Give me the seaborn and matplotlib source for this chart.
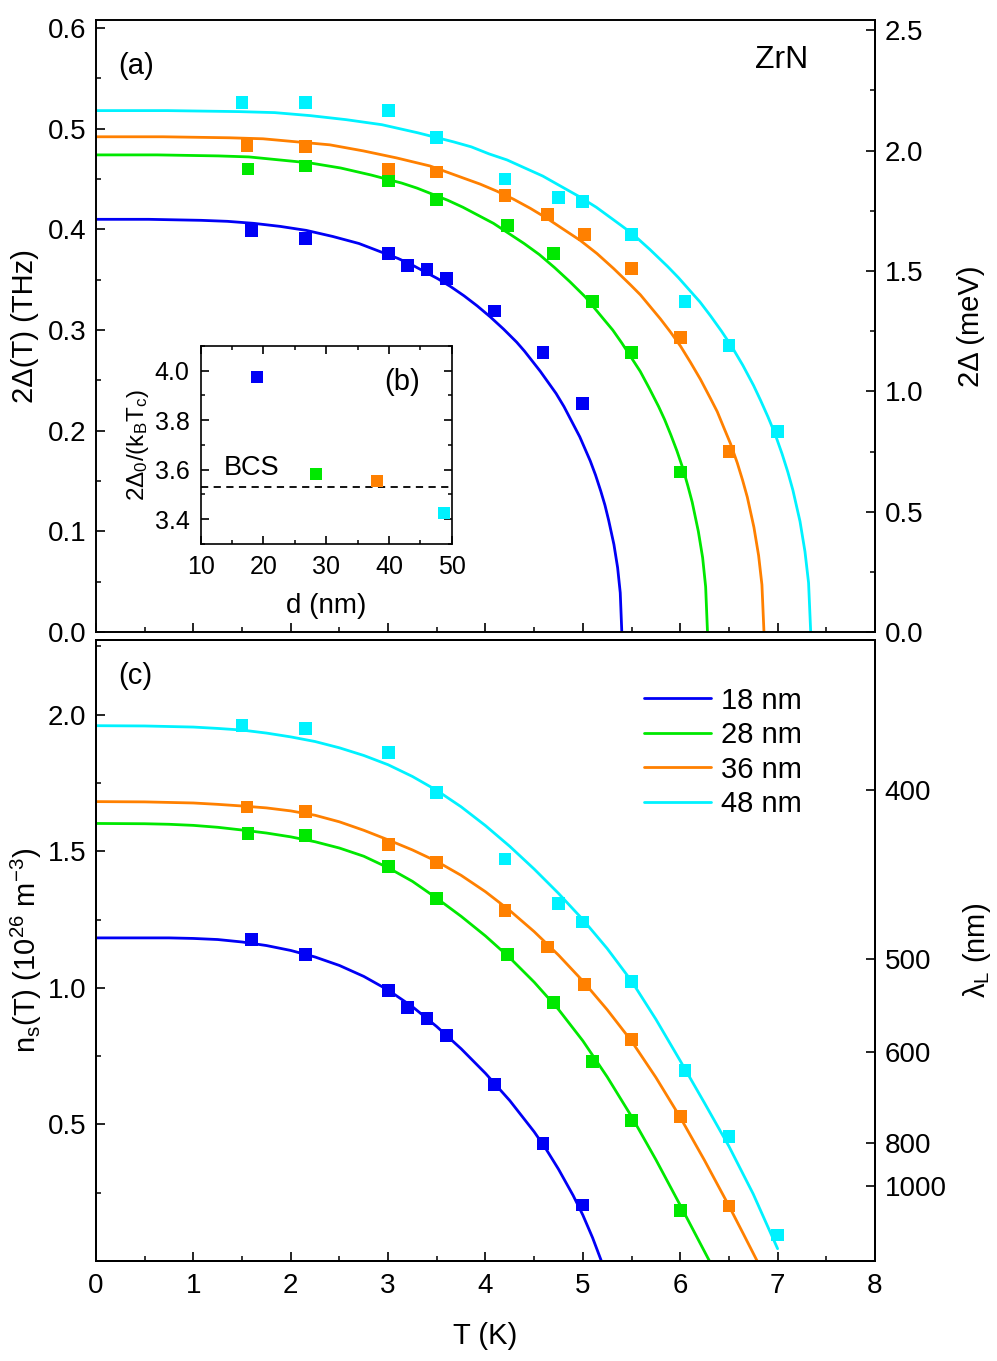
import numpy as np
import pandas as pd
import matplotlib
matplotlib.use('Agg')
import matplotlib.pyplot as plt
from matplotlib.ticker import MultipleLocator, FixedLocator, NullLocator
from matplotlib.lines import Line2D
import seaborn as sns

# ---------------- data ----------------
thickness = ['18 nm', '28 nm', '36 nm', '48 nm']
colors = ['#0000F5', '#00E800', '#FF8000', '#00F2FF']

# measured points (T in K)
T_18 = [1.60, 2.15, 3.00, 3.20, 3.40, 3.60, 4.09, 4.59, 5.00]
gap_18 = [0.399, 0.391, 0.376, 0.364, 0.360, 0.351, 0.319, 0.278, 0.227]
ns_18 = [1.177, 1.122, 0.990, 0.929, 0.887, 0.825, 0.647, 0.431, 0.205]

T_28 = [1.56, 2.15, 3.00, 3.50, 4.23, 4.70, 5.10, 5.50, 6.00]
gap_28 = [0.460, 0.463, 0.448, 0.430, 0.404, 0.376, 0.328, 0.278, 0.159]
ns_28 = [1.565, 1.558, 1.443, 1.326, 1.121, 0.945, 0.729, 0.514, 0.186]

T_36 = [1.55, 2.15, 3.00, 3.50, 4.20, 4.64, 5.02, 5.50, 6.00, 6.50]
gap_36 = [0.483, 0.482, 0.460, 0.457, 0.434, 0.415, 0.395, 0.361, 0.293, 0.179]
ns_36 = [1.662, 1.646, 1.524, 1.459, 1.284, 1.150, 1.013, 0.812, 0.529, 0.201]

T_48 = [1.50, 2.15, 3.00, 3.50, 4.20, 4.75, 5.00, 5.50, 6.05, 6.50, 7.00]
gap_48 = [0.526, 0.526, 0.518, 0.491, 0.450, 0.432, 0.428, 0.395, 0.328, 0.285, 0.199]
ns_48 = [1.961, 1.949, 1.862, 1.715, 1.472, 1.308, 1.241, 1.022, 0.698, 0.457, 0.095]

# fitted gap curves
fitT_gap_18 = [0, 0.54, 1.08, 1.35, 1.62, 1.89, 2.16, 2.43, 2.70, 2.835, 2.97, 3.105, 3.24, 3.375,
               3.51, 3.645, 3.78, 3.915, 4.05, 4.185, 4.32, 4.401, 4.482, 4.563, 4.644, 4.725,
               4.806, 4.887, 4.968, 5.022, 5.076, 5.13, 5.184, 5.227, 5.265, 5.319, 5.357, 5.384, 5.40]
fit_gap_18 = [0.410, 0.410, 0.409, 0.408, 0.406, 0.403, 0.399, 0.393, 0.386, 0.381, 0.376, 0.371,
              0.365, 0.358, 0.351, 0.343, 0.334, 0.324, 0.313, 0.301, 0.288, 0.279, 0.269, 0.259,
              0.248, 0.237, 0.224, 0.209, 0.194, 0.182, 0.170, 0.156, 0.140, 0.126, 0.111, 0.087,
              0.064, 0.039, 0.0]
fitT_gap_28 = [0, 0.628, 1.256, 1.57, 1.884, 2.198, 2.512, 2.826, 3.14, 3.297, 3.454, 3.611, 3.768,
               3.925, 4.082, 4.239, 4.396, 4.553, 4.71, 4.867, 5.024, 5.118, 5.212, 5.307, 5.401,
               5.495, 5.589, 5.683, 5.778, 5.840, 5.903, 5.966, 6.029, 6.079, 6.123, 6.186, 6.230,
               6.261, 6.28]
fit_gap_28 = [0.474, 0.474, 0.473, 0.472, 0.469, 0.466, 0.461, 0.454, 0.446, 0.441, 0.435, 0.429,
              0.422, 0.414, 0.406, 0.396, 0.386, 0.375, 0.362, 0.348, 0.333, 0.322, 0.311, 0.300,
              0.287, 0.273, 0.259, 0.242, 0.224, 0.211, 0.196, 0.180, 0.162, 0.145, 0.129, 0.100,
              0.074, 0.045, 0.0]
fitT_gap_36 = [0, 0.686, 1.372, 1.715, 2.058, 2.401, 2.744, 3.087, 3.43, 3.602, 3.773, 3.945, 4.116,
               4.288, 4.459, 4.631, 4.802, 4.974, 5.145, 5.317, 5.488, 5.591, 5.694, 5.797, 5.900,
               6.003, 6.105, 6.208, 6.311, 6.380, 6.448, 6.517, 6.586, 6.640, 6.689, 6.757, 6.805,
               6.839, 6.86]
fit_gap_36 = [0.492, 0.492, 0.491, 0.490, 0.487, 0.484, 0.478, 0.471, 0.463, 0.457, 0.451, 0.445,
              0.438, 0.430, 0.421, 0.411, 0.400, 0.389, 0.376, 0.361, 0.345, 0.335, 0.323, 0.311,
              0.298, 0.284, 0.268, 0.251, 0.232, 0.219, 0.203, 0.187, 0.168, 0.151, 0.134, 0.104,
              0.076, 0.047, 0.0]
fitT_gap_48 = [0, 0.734, 1.468, 1.835, 2.202, 2.569, 2.936, 3.303, 3.67, 3.854, 4.037, 4.221, 4.404,
               4.588, 4.771, 4.955, 5.138, 5.322, 5.505, 5.689, 5.872, 5.982, 6.092, 6.202, 6.312,
               6.423, 6.533, 6.643, 6.753, 6.826, 6.900, 6.973, 7.046, 7.105, 7.157, 7.230, 7.281,
               7.318, 7.34]
fit_gap_48 = [0.518, 0.518, 0.517, 0.516, 0.513, 0.509, 0.504, 0.496, 0.487, 0.482, 0.475, 0.469,
              0.461, 0.453, 0.443, 0.433, 0.422, 0.409, 0.396, 0.380, 0.363, 0.352, 0.340, 0.328,
              0.314, 0.299, 0.283, 0.265, 0.245, 0.230, 0.214, 0.197, 0.177, 0.159, 0.141, 0.110,
              0.080, 0.049, 0.0]

# fitted superfluid density curves
fitT_ns_18 = [0, 0.5, 0.75, 1.0, 1.25, 1.5, 1.75, 2.0, 2.25, 2.5, 2.75, 3.0, 3.25, 3.5, 3.75, 4.0,
              4.25, 4.5, 4.625, 4.75, 4.9, 5.0, 5.1, 5.19]
fit_ns_18 = [1.183, 1.183, 1.183, 1.181, 1.177, 1.168, 1.155, 1.137, 1.113, 1.082, 1.042, 0.992,
             0.931, 0.858, 0.777, 0.687, 0.587, 0.473, 0.408, 0.336, 0.240, 0.168, 0.085, 0.0]
fitT_ns_28 = [0, 0.5, 0.75, 1.0, 1.25, 1.5, 1.75, 2.0, 2.25, 2.5, 2.75, 3.0, 3.25, 3.5, 3.75, 4.0,
              4.25, 4.5, 4.75, 5.0, 5.25, 5.5, 5.75, 6.0, 6.15, 6.30]
fit_ns_28 = [1.602, 1.601, 1.599, 1.595, 1.588, 1.578, 1.567, 1.553, 1.535, 1.512, 1.482, 1.440,
             1.390, 1.328, 1.262, 1.190, 1.110, 1.021, 0.921, 0.806, 0.674, 0.529, 0.371, 0.204,
             0.102, 0.0]
fitT_ns_36 = [0, 0.5, 0.75, 1.0, 1.25, 1.5, 1.75, 2.0, 2.25, 2.5, 2.75, 3.0, 3.25, 3.5, 3.75, 4.0,
              4.25, 4.5, 4.75, 5.0, 5.25, 5.5, 5.75, 6.0, 6.25, 6.5, 6.65, 6.79]
fit_ns_36 = [1.682, 1.681, 1.679, 1.677, 1.672, 1.666, 1.659, 1.648, 1.632, 1.608, 1.577, 1.542,
             1.505, 1.463, 1.412, 1.352, 1.283, 1.206, 1.120, 1.025, 0.920, 0.805, 0.672, 0.526,
             0.368, 0.202, 0.098, 0.0]
fitT_ns_48 = [0, 0.5, 0.75, 1.0, 1.25, 1.5, 1.75, 2.0, 2.25, 2.5, 2.75, 3.0, 3.25, 3.5, 3.75, 4.0,
              4.25, 4.5, 4.75, 5.0, 5.25, 5.5, 5.75, 6.0, 6.25, 6.5, 6.75, 7.0]
fit_ns_48 = [1.960, 1.959, 1.957, 1.955, 1.950, 1.944, 1.933, 1.919, 1.902, 1.879, 1.851, 1.817,
             1.774, 1.723, 1.663, 1.594, 1.518, 1.435, 1.346, 1.250, 1.144, 1.025, 0.885, 0.733,
             0.578, 0.420, 0.245, 0.045]

# inset (b)
inset_d = [18.9, 28.4, 38.1, 48.7]
inset_ratio = [3.973, 3.583, 3.555, 3.424]
bcs_value = 3.53

# right-axis ticks
meV_ticks = [0.0, 0.5, 1.0, 1.5, 2.0, 2.5]
lam_ticks = [400, 500, 600, 800, 1000]
THZ_TO_MEV = 4.182
LAMBDA_K = 276000.0   # n_s (1e26 m^-3) = K / lambda(nm)^2

# ---------------- tables ----------------
def long_table(xs, ys):
    return pd.DataFrame({
        'T': sum(xs, []),
        'v': sum(ys, []),
        'd': sum([[lab] * len(x) for lab, x in zip(thickness, xs)], []),
    })

pts_gap = long_table([T_18, T_28, T_36, T_48], [gap_18, gap_28, gap_36, gap_48])
pts_ns = long_table([T_18, T_28, T_36, T_48], [ns_18, ns_28, ns_36, ns_48])
fit_gap = long_table([fitT_gap_18, fitT_gap_28, fitT_gap_36, fitT_gap_48],
                     [fit_gap_18, fit_gap_28, fit_gap_36, fit_gap_48])
fit_ns = long_table([fitT_ns_18, fitT_ns_28, fitT_ns_36, fitT_ns_48],
                    [fit_ns_18, fit_ns_28, fit_ns_36, fit_ns_48])
inset = pd.DataFrame({'d_nm': inset_d, 'r': inset_ratio, 'd': thickness})
pal = dict(zip(thickness, colors))

# ---------------- style ----------------
sns.set_theme(style='ticks')
plt.rcParams.update({
    'font.family': ['Liberation Sans', 'DejaVu Sans'],
    'mathtext.fontset': 'custom',
    'mathtext.rm': 'Liberation Sans',
    'mathtext.it': 'Liberation Sans:italic',
    'mathtext.bf': 'Liberation Sans:bold',
    'axes.linewidth': 1.4,
    'axes.edgecolor': 'black',
    'xtick.direction': 'in', 'ytick.direction': 'in',
    'xtick.color': 'black', 'ytick.color': 'black',
    'xtick.major.size': 6.5, 'ytick.major.size': 6.5,
    'xtick.minor.size': 3.5, 'ytick.minor.size': 3.5,
    'xtick.major.width': 1.2, 'ytick.major.width': 1.2,
    'xtick.minor.width': 1.1, 'ytick.minor.width': 1.1,
    'axes.labelcolor': 'black', 'text.color': 'black',
    'lines.solid_joinstyle': 'round',
})

TICK_FS = 20
LABEL_FS = 21
LW = 2.0
MS = 85

fig = plt.figure(figsize=(9.97, 13.61), dpi=100)
ax1 = fig.add_axes([0.0963, 0.5356, 0.7813, 0.4497])
ax2 = fig.add_axes([0.0963, 0.0735, 0.7813, 0.4563])

# ----- panel (a) -----
sns.lineplot(data=fit_gap, x='T', y='v', hue='d', palette=pal, sort=False,
             estimator=None, linewidth=LW, legend=False, ax=ax1, zorder=2)
sns.scatterplot(data=pts_gap, x='T', y='v', hue='d', palette=pal, marker='s',
                s=MS, linewidth=0, legend=False, ax=ax1, zorder=3)
ax1.set_xlim(0, 8)
ax1.set_ylim(0, 0.608)
ax1.xaxis.set_major_locator(MultipleLocator(1))
ax1.xaxis.set_minor_locator(MultipleLocator(0.5))
ax1.yaxis.set_major_locator(MultipleLocator(0.1))
ax1.yaxis.set_minor_locator(MultipleLocator(0.05))
ax1.tick_params(axis='x', which='both', labelbottom=False)
ax1.tick_params(axis='y', which='both', labelsize=TICK_FS, pad=7)
ax1.set_xlabel('')
ax1.set_ylabel('2Δ(T) (THz)', fontsize=LABEL_FS)
ax1.yaxis.set_label_coords(-0.073, 0.5)
ax1.text(0.029, 0.925, '(a)', transform=ax1.transAxes, fontsize=LABEL_FS,
         ha='left', va='center')
ax1.text(0.914, 0.935, 'ZrN', transform=ax1.transAxes, fontsize=23,
         ha='right', va='center')

ax1r = ax1.secondary_yaxis('right', functions=(lambda x: x * THZ_TO_MEV,
                                               lambda x: x / THZ_TO_MEV))
ax1r.yaxis.set_major_locator(FixedLocator(meV_ticks))
ax1r.yaxis.set_minor_locator(MultipleLocator(0.25))
ax1r.tick_params(axis='y', which='both', direction='in', labelsize=TICK_FS, pad=7)
ax1r.set_ylabel('2Δ (meV)', fontsize=LABEL_FS, labelpad=24)

# ----- panel (c) -----
sns.lineplot(data=fit_ns, x='T', y='v', hue='d', palette=pal, sort=False,
             estimator=None, linewidth=LW, legend=False, ax=ax2, zorder=2)
sns.scatterplot(data=pts_ns, x='T', y='v', hue='d', palette=pal, marker='s',
                s=MS, linewidth=0, legend=False, ax=ax2, zorder=3)
ax2.set_xlim(0, 8)
ax2.set_ylim(0, 2.274)
ax2.xaxis.set_major_locator(MultipleLocator(1))
ax2.xaxis.set_minor_locator(MultipleLocator(0.5))
ax2.yaxis.set_major_locator(FixedLocator([0.5, 1.0, 1.5, 2.0]))
ax2.yaxis.set_minor_locator(FixedLocator([0.25, 0.75, 1.25, 1.75, 2.25]))
ax2.tick_params(axis='y', which='both', labelsize=TICK_FS, pad=7)
ax2.tick_params(axis='x', which='both', labelsize=TICK_FS, pad=9)
ax2.set_xlabel('T (K)', fontsize=LABEL_FS, labelpad=16)
ax2.set_ylabel(r'n$_\mathregular{s}$(T) (10$^\mathregular{26}$ m$^\mathregular{-3}$)',
               fontsize=LABEL_FS)
ax2.yaxis.set_label_coords(-0.067, 0.5)
ax2.text(0.029, 0.942, '(c)', transform=ax2.transAxes, fontsize=LABEL_FS,
         ha='left', va='center')

ax2r = ax2.twinx()
ax2r.set_ylim(ax2.get_ylim())
ax2r.yaxis.set_major_locator(FixedLocator([LAMBDA_K / l ** 2 for l in lam_ticks]))
ax2r.yaxis.set_minor_locator(NullLocator())
ax2r.set_yticklabels([str(l) for l in lam_ticks])
ax2r.tick_params(axis='y', which='both', direction='in', labelsize=TICK_FS, pad=7)
ax2r.set_ylabel(r'λ$_\mathregular{L}$ (nm)', fontsize=LABEL_FS, labelpad=10)
for sp in ax2r.spines.values():
    sp.set_linewidth(1.4)

handles = [Line2D([], [], color=c, lw=LW) for c in colors]
leg = ax2.legend(handles, thickness, loc='upper left',
                 bbox_to_anchor=(0.703, 0.925), frameon=False,
                 fontsize=LABEL_FS, handlelength=2.3, handletextpad=0.35,
                 labelspacing=0.225, borderpad=0, borderaxespad=0)

# ----- inset (b) -----
axin = fig.add_axes([0.2013, 0.6003, 0.2518, 0.1455])
axin.set_facecolor('white')
axin.axhline(bcs_value, color='black', lw=1.3, ls=(0, (4, 3)), zorder=1)
sns.scatterplot(data=inset, x='d_nm', y='r', hue='d', palette=pal, marker='s',
                s=75, linewidth=0, legend=False, ax=axin, zorder=3, clip_on=False)
axin.set_xlim(10, 50)
axin.set_ylim(3.3, 4.1)
axin.xaxis.set_major_locator(MultipleLocator(10))
axin.xaxis.set_minor_locator(MultipleLocator(5))
axin.yaxis.set_major_locator(MultipleLocator(0.2))
axin.yaxis.set_minor_locator(MultipleLocator(0.1))
axin.tick_params(axis='both', which='both', direction='in', top=True, right=True,
                 labelsize=18, pad=8)
axin.tick_params(which='major', length=5.5)
axin.tick_params(which='minor', length=3)
for sp in axin.spines.values():
    sp.set_linewidth(1.2)
axin.set_xlabel('d (nm)', fontsize=20, labelpad=10)
axin.set_ylabel(r'2Δ$_\mathregular{0}$/(k$_\mathregular{B}$T$_\mathregular{c}$)',
                fontsize=17.5, labelpad=3)
axin.text(0.875, 0.82, '(b)', transform=axin.transAxes, fontsize=21,
          ha='right', va='center')
axin.text(13.6, 3.555, 'BCS', fontsize=19.5, ha='left', va='bottom')

fig.savefig('out.png', dpi=100)
